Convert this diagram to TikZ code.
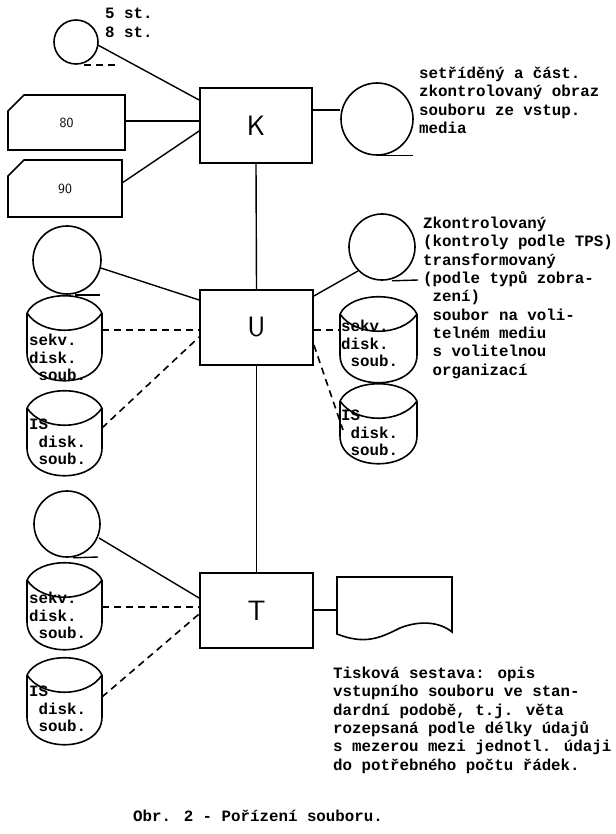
\documentclass[tikz,border=0pt]{standalone}
\usepackage{fontspec}
\setmainfont{Liberation Mono}
\usetikzlibrary{calc,shapes.misc}
\newcommand\mydisk[5]{% name x y w h
 \coordinate (#1) at (#2+#4/2,#3+#5/2);
 \draw[line width=1.6pt] (#2,#3+18) -- (#2,#3+#5-30) .. controls (#2,#3+#5+7) and (#2+#4,#3+#5+7) .. (#2+#4,#3+#5-30) -- (#2+#4,#3+18);
 \draw[line width=1.6pt] (#2,#3+18) .. controls (#2+#4*0.15,#3-5) and (#2+#4*0.85,#3-5) .. (#2+#4,#3+18);
 \draw[line width=1.6pt] (#2,#3+18) .. controls (#2+#4*0.2,#3+41) and (#2+#4*0.8,#3+41) .. (#2+#4,#3+18);}
\begin{document}
\begin{tikzpicture}[x=1pt,y=-1pt,
 box/.style={draw,line width=1.8pt,font=\fontsize{28}{28}\selectfont\sffamily},
 tape/.style={draw,line width=1.6pt,circle,inner sep=0pt},
 card/.style={draw,line width=1.6pt,minimum height=55pt,chamfered rectangle,chamfered rectangle corners=north west,chamfered rectangle xsep=8pt,chamfered rectangle ysep=8pt,font=\fontsize{14}{14}\selectfont\sffamily},
 lbl/.style={font=\fontsize{15.8}{18.3}\selectfont\bfseries,align=left,inner sep=0pt,anchor=north west},
 dsk/.style={font=\fontsize{15.8}{17.5}\selectfont\bfseries,align=left,inner sep=0pt,anchor=north west},
 con/.style={line width=1.4pt},
 dcon/.style={line width=1.6pt,dash pattern=on 7pt off 5pt}]
\useasboundingbox (0,0) rectangle (615,834);
% K section
\node[box,minimum width=112pt,minimum height=75pt] (K) at (256,125.5) {K};
\node[tape,minimum size=44pt] (c1) at (76,42) {};
\draw[dcon] (c1.south) ++(8,0) -- ++(35,0) coordinate (c1t);
\node[lbl] (t1) at (105,8) {5 st.\\8 st.};
\draw[con] (c1.east) ++(-1,3) -- (K.west|-0,100);
\node[card,minimum width=117pt] (c80) at (66.5,122.5) {80};
\node[card,minimum width=114pt,minimum height=57pt] (c90) at (65,188.5) {90};
\draw[con] (c80.east|-0,121) -- (K.west|-0,121);
\draw[con] (c90.east) ++(0,-6) -- (K.west|-0,131);
\node[tape,minimum size=72pt] (c2) at (377,119) {};
\draw[con] (c2.south) -- ++(36,0);
\draw[con] (K.east|-0,110) -- (c2.west|-0,110);
\node[lbl] (t2) at (419,67) {setříděný a část.\\zkontrolovaný obraz\\souboru ze vstup.\\media};
% U section
\node[box,minimum width=113pt,minimum height=75pt] (U) at (256.5,327.5) {U};
\draw[con] (K.south) -- (U.north);
\node[tape,minimum size=68pt] (c3) at (67,260) {};
\draw[con] (c3.south) ++(8,0) -- ++(25,0);
\draw[con] (c3.east) ++(-1,8) -- (U.west|-0,300);
\mydisk{d1}{27}{295}{75}{88}
\node[dsk] (d1t) at (29,334) {sekv.\\disk.\\\ soub.};
\draw[dcon] (102,330) -- (U.west|-0,330);
\mydisk{d2}{27}{390}{75}{88}
\node[dsk] (d2t) at (29,419) {IS\\\ disk.\\\ soub.};
\draw[dcon] (102,428) -- (U.west|-0,337);
\node[tape,minimum size=66pt] (c4) at (382,247) {};
\draw[con] (c4.south) ++(10,0) -- (418,280);
\draw[con] (U.east|-0,296) -- (c4.south west);
\mydisk{d3}{340}{296}{77}{89}
\node[dsk] (d3t) at (341,320) {sekv.\\disk.\\\ soub.};
\draw[dcon] (U.east|-0,330) -- (340,330);
\mydisk{d4}{340}{383}{77}{83}
\node[dsk] (d4t) at (341,410) {IS\\\ disk.\\\ soub.};
\draw[dcon] (U.east|-0,345) -- (343,430);
\node[lbl] (t3) at (423,217) {Zkontrolovaný\\(kontroly podle TPS)\\transformovaný\\(podle typů zobra-\\\ zení)\\\ soubor na voli-\\\ telném mediu\\\ s volitelnou\\\ organizací};
% T section
\node[box,minimum width=113pt,minimum height=75pt] (T) at (256.5,610.5) {T};
\draw[con] (U.south) -- (T.north);
\node[tape,minimum size=66pt] (c5) at (67,524) {};
\draw[con] (c5.south) ++(6,0) -- (98,557);
\draw[con] (99,538) -- (T.west|-0,598);
\mydisk{d5}{27}{562}{75}{90}
\node[dsk] (d5t) at (29,592) {sekv.\\disk.\\\ soub.};
\draw[dcon] (102,607) -- (T.west|-0,607);
\mydisk{d6}{27}{657}{75}{90}
\node[dsk] (d6t) at (29,686) {IS\\\ disk.\\\ soub.};
\draw[dcon] (102,697) -- (T.west|-0,614);
\coordinate (p0) at (337,577);
\draw[line width=1.6pt] (p0) -- (452,577) -- (452,632) .. controls (440,622) and (420,620) .. (400,628) .. controls (380,638) and (365,645) .. (337,634) -- cycle;
\node[inner sep=0pt] (doc) at (394,600) {};
\draw[con] (T.east|-0,610) -- (337,610);
\node[lbl] (t4) at (333,667) {Tisková sestava: opis\\vstupního souboru ve stan-\\dardní podobě, t.j. věta\\rozepsaná podle délky údajů\\s mezerou mezi jednotl. údaji\\do potřebného počtu řádek.};
\node[lbl] (cap) at (133,810) {Obr. 2 - Pořízení souboru.};
\end{tikzpicture}
\end{document}
